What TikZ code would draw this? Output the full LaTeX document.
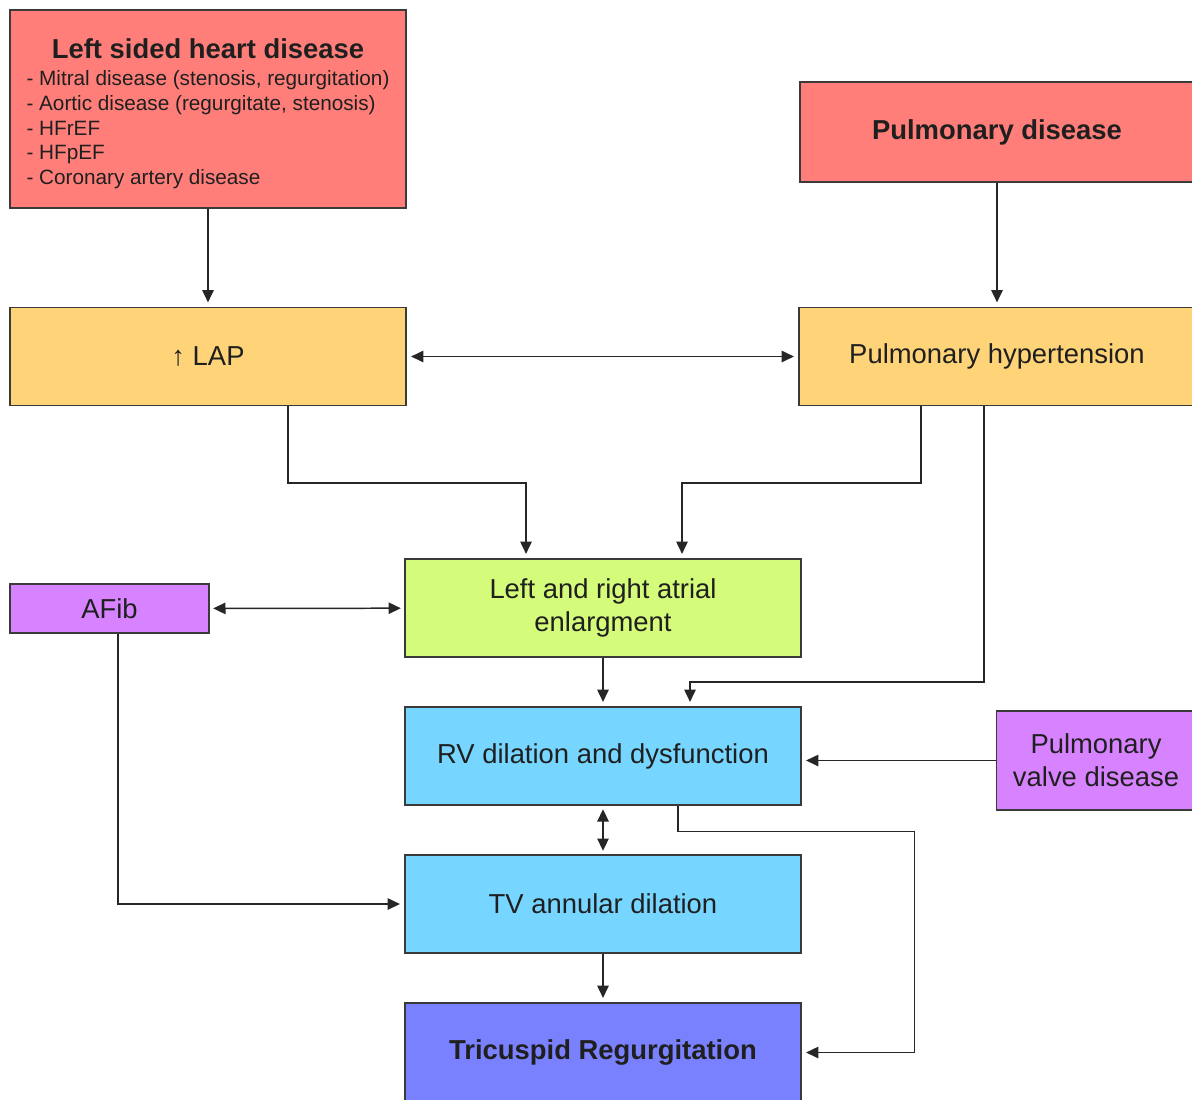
\documentclass[tikz,border=0pt]{standalone}
\usepackage{fontspec}
\setmainfont{Liberation Sans}
\usepackage{xcolor}
\usepackage{tikz}
\usetikzlibrary{positioning, calc, arrows.meta}
\definecolor{salmon}{HTML}{FF7E79}
\definecolor{cantaloupe}{HTML}{FFD479}
\definecolor{honeydew}{HTML}{D4FB79}
\definecolor{sky}{HTML}{76D6FF}
\definecolor{lavender}{HTML}{D783FF}
\definecolor{orchid}{HTML}{7A81FF}
\definecolor{edge}{HTML}{3A3A3A}

\begin{document}
\begin{tikzpicture}[x=0.02cm, y=-0.02cm,
    box/.style={draw=edge, line width=0.8pt, minimum width=7.92cm, minimum height=1.96cm,
        inner sep=2pt, align=center, text=black!88, font=\fontsize{15.6}{18.8}\selectfont},
    small/.style={box, minimum width=3.98cm, minimum height=0.98cm},
    arr/.style={-{Triangle[length=7pt,width=6.5pt]}, line width=0.85pt, black!85, shorten >=2.5pt},
    darr/.style={{Triangle[length=7pt,width=6.5pt]}-{Triangle[length=7pt,width=6.5pt]}, line width=0.85pt, black!85}]
            \useasboundingbox (0,0) rectangle (1192,1099);

            %Nodes
            \node[box, fill=salmon, minimum height=3.96cm] at (208,109) (LHD) {%
                \raisebox{-3.4pt}[\height][\depth]{\begin{tabular}{@{}l@{}}
                \multicolumn{1}{@{}c@{}}{\bfseries Left sided heart disease}\\[-3.5pt]
                {\fontsize{11.8}{14.2}\selectfont - Mitral disease (stenosis, regurgitation)}\\[-4.7pt]
                {\fontsize{11.8}{14.2}\selectfont - Aortic disease (regurgitate, stenosis)}\\[-4.7pt]
                {\fontsize{11.8}{14.2}\selectfont - HFrEF}\\[-4.7pt]
                {\fontsize{11.8}{14.2}\selectfont - HFpEF}\\[-4.7pt]
                {\fontsize{11.8}{14.2}\selectfont - Coronary artery disease}
                \end{tabular}}};
            \node[box, fill=salmon, minimum width=7.88cm, minimum height=2cm] at (997,132) (PD) {\bfseries Pulmonary disease};
            \node[box, fill=cantaloupe] at (208,356.5) (LAP) {↑ LAP};
            \node[box, fill=cantaloupe] at (997,356.5) (PH) {Pulmonary hypertension};
            \node[box, fill=honeydew] at (603,608) (LRA) {Left and right atrial\\enlargment};
            \node[small, fill=lavender] at (109.5,608.5) (AF) {AFib};
            \node[box, fill=sky] at (603,756) (RV) {RV dilation and dysfunction};
            \node[small, fill=lavender, minimum height=1.98cm] at (1096,760.5) (PVD) {Pulmonary\\valve disease};
            \node[box, fill=sky] at (603,904) (TV) {TV annular dilation};
            \node[box, fill=orchid, minimum height=1.98cm] at (603,1052.5) (TR) {\bfseries Tricuspid Regurgitation};

            %Lines
            \draw[arr] (LHD) -- (LAP);
            \draw[arr] (PD) -- (PH);
            \draw[darr, shorten <=2.5pt, shorten >=2.5pt] (LAP) -- (PH);
            \draw[arr] ($(LAP.south)+(80,0)$) -- ++(0,77) -| ($(LRA.north)+(-77,0)$);
            \draw[arr] ($(PH.south)+(-76,0)$) -- ++(0,77) -| ($(LRA.north)+(79,0)$);
            \draw[arr] ($(PH.south)+(-13,0)$) -- ++(0,276) -| ($(RV.north)+(87,0)$);
            \draw[arr] (LRA) -- (RV);
            \draw[darr, shorten <=2pt, shorten >=2pt] (AF) -- (LRA);
            \draw[arr] ($(AF.south)+(8.5,0)$) |- (TV.west);
            \draw[arr] (PVD.west) -- (PVD.west -| RV.east);
            \draw[darr, shorten <=2pt, shorten >=2pt] (RV) -- (TV);
            \draw[arr] ($(RV.south)+(75,0)$) -- ++(0,26) -| ($(TR.east)+(113,0)$) -- (TR.east);
            \draw[arr] (TV) -- (TR);
\end{tikzpicture}
\end{document}
